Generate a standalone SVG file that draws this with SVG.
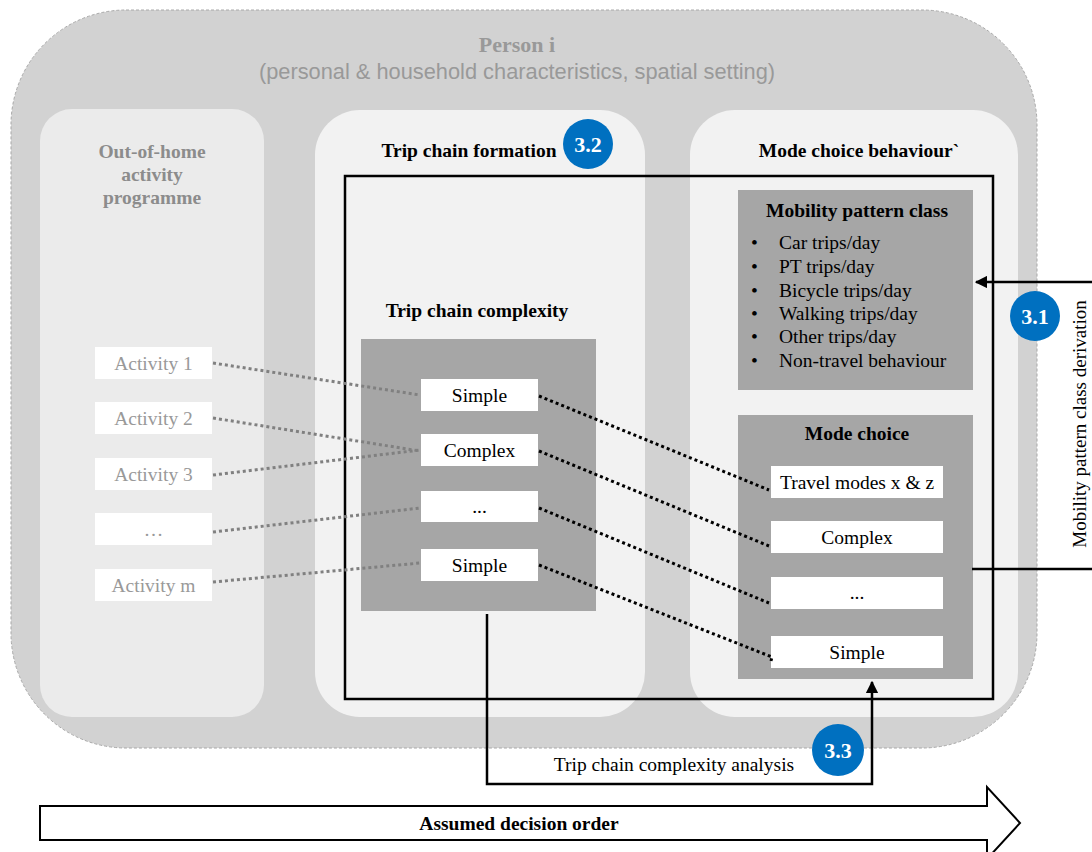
<svg xmlns="http://www.w3.org/2000/svg" width="1092" height="852" viewBox="0 0 1092 852">
<defs>
<style>
.serif{font-family:"Liberation Serif","Times New Roman",serif}
.sans{font-family:"Liberation Sans",Arial,sans-serif}
.b{font-weight:bold}
.t18{font-size:19.5px}
.t17{font-size:19.5px}
.panel{fill:#f2f2f2}
.gbox{fill:#a6a6a6}
.wbox{fill:#ffffff}
.act{fill:#999999}
.badge{fill:#0070c0}
.badgetxt{fill:#ffffff;font-family:"Liberation Serif","Times New Roman",serif;font-weight:bold;font-size:22px}
.gdot{stroke:#808080;stroke-width:3;stroke-dasharray:3 3;fill:none}
.bdot{stroke:#000000;stroke-width:3;stroke-dasharray:3 3;fill:none}
.solid{stroke:#000000;stroke-width:2.5;fill:none}
</style>
<marker id="ah" viewBox="0 0 10 10" refX="9" refY="5" markerWidth="5" markerHeight="5" orient="auto-start-reverse" markerUnits="strokeWidth">
<path d="M0,0 L10,5 L0,10 z" fill="#000"/>
</marker>
</defs>
<rect x="0" y="0" width="1092" height="852" fill="#ffffff"/>

<g id="person">
<rect x="11" y="10" width="1026" height="738" rx="115" ry="115" fill="#d2d2d2" stroke="#a8a8a8" stroke-width="1" stroke-dasharray="3 2"/>
<text class="serif b" x="517" y="52" text-anchor="middle" font-size="22" fill="#999999">Person i</text>
<text class="sans" x="517" y="79" text-anchor="middle" font-size="21.8" fill="#999999">(personal &amp; household characteristics, spatial setting)</text>
</g>

<g id="panel-activity">
<rect x="40" y="109" width="224" height="608" rx="32" fill="#ebebeb"/>
<text class="serif b t18" text-anchor="middle" fill="#8c8c8c"><tspan x="152" y="158">Out-of-home</tspan><tspan x="152" y="181">activity</tspan><tspan x="152" y="204">programme</tspan></text>
</g>

<g id="panel-trip">
<rect x="315" y="110" width="330" height="607" rx="45" class="panel"/>
<text class="serif b t17" x="469" y="157" text-anchor="middle">Trip chain formation</text>
</g>

<g id="panel-mode">
<rect x="690" y="110" width="328" height="607" rx="45" class="panel"/>
<text class="serif b t17" x="859" y="157" text-anchor="middle">Mode choice behaviour`</text>
</g>

<g id="frame">
<rect x="345" y="176" width="648" height="523" fill="none" stroke="#000" stroke-width="2.5"/>
</g>

<g id="badge-32">
<circle cx="588" cy="144" r="25" class="badge"/>
<text class="badgetxt" x="588" y="151.5" text-anchor="middle">3.2</text>
</g>

<g id="activities">
<g id="act1"><rect x="95" y="347" width="117" height="32" class="wbox"/><text class="serif t18 act" x="153.5" y="370" text-anchor="middle">Activity 1</text></g>
<g id="act2"><rect x="95" y="402" width="117" height="32" class="wbox"/><text class="serif t18 act" x="153.5" y="425" text-anchor="middle">Activity 2</text></g>
<g id="act3"><rect x="95" y="458" width="117" height="32" class="wbox"/><text class="serif t18 act" x="153.5" y="481" text-anchor="middle">Activity 3</text></g>
<g id="actdots"><rect x="95" y="513" width="117" height="32" class="wbox"/><text class="serif t18 act" x="153.5" y="536" text-anchor="middle">…</text></g>
<g id="actm"><rect x="95" y="569" width="117" height="32" class="wbox"/><text class="serif t18 act" x="153.5" y="592" text-anchor="middle">Activity m</text></g>
</g>

<g id="trip-complexity">
<text class="serif b t17" x="477" y="317" text-anchor="middle">Trip chain complexity</text>
<rect x="361" y="339" width="235" height="272" class="gbox"/>
<g id="tc1"><rect x="421" y="379" width="117" height="32" class="wbox"/><text class="serif t18" x="479.5" y="402" text-anchor="middle">Simple</text></g>
<g id="tc2"><rect x="421" y="434" width="117" height="32" class="wbox"/><text class="serif t18" x="479.5" y="457" text-anchor="middle">Complex</text></g>
<g id="tc3"><rect x="421" y="491" width="117" height="31" class="wbox"/><text class="serif t18" x="479.5" y="513" text-anchor="middle">...</text></g>
<g id="tc4"><rect x="421" y="549" width="117" height="32" class="wbox"/><text class="serif t18" x="479.5" y="572" text-anchor="middle">Simple</text></g>
</g>

<g id="mobility-pattern">
<rect x="738" y="190" width="235" height="200" class="gbox"/>
<text class="serif b t17" x="857" y="217" text-anchor="middle">Mobility pattern class</text>
<g class="serif t18">
<text x="751" y="249">•</text><text x="779" y="249">Car trips/day</text>
<text x="751" y="273">•</text><text x="779" y="273">PT trips/day</text>
<text x="751" y="297">•</text><text x="779" y="297">Bicycle trips/day</text>
<text x="751" y="320">•</text><text x="779" y="320">Walking trips/day</text>
<text x="751" y="343">•</text><text x="779" y="343">Other trips/day</text>
<text x="751" y="367">•</text><text x="779" y="367">Non-travel behaviour</text>
</g>
</g>

<g id="mode-choice">
<rect x="738" y="415" width="235" height="264" class="gbox"/>
<text class="serif b t17" x="857" y="440" text-anchor="middle">Mode choice</text>
<g id="mc1"><rect x="771" y="466" width="172" height="32" class="wbox"/><text class="serif t18" x="857" y="489" text-anchor="middle">Travel modes x &amp; z</text></g>
<g id="mc2"><rect x="771" y="521" width="172" height="32" class="wbox"/><text class="serif t18" x="857" y="544" text-anchor="middle">Complex</text></g>
<g id="mc3"><rect x="771" y="577" width="172" height="32" class="wbox"/><text class="serif t18" x="857" y="599" text-anchor="middle">...</text></g>
<g id="mc4"><rect x="771" y="636" width="172" height="32" class="wbox"/><text class="serif t18" x="857" y="659" text-anchor="middle">Simple</text></g>
</g>

<g id="connectors">
<line class="gdot" x1="213" y1="363" x2="420" y2="395"/>
<line class="gdot" x1="213" y1="418" x2="420" y2="451"/>
<line class="gdot" x1="213" y1="475" x2="420" y2="450"/>
<line class="gdot" x1="213" y1="532" x2="420" y2="508"/>
<line class="gdot" x1="213" y1="582" x2="420" y2="563"/>
<line class="bdot" x1="539" y1="396" x2="769" y2="490"/>
<line class="bdot" x1="539" y1="451" x2="769" y2="546"/>
<line class="bdot" x1="539" y1="508" x2="769" y2="603"/>
<polyline class="bdot" points="539,565 772,657 771,661"/>
<polyline class="solid" points="1092,569 972,569"/>
<line class="solid" x1="1092" y1="282" x2="976" y2="282" marker-end="url(#ah)"/>
<polyline class="solid" points="487,614 487,784 872,784 872,682" marker-end="url(#ah)"/>
</g>

<g id="badge-31">
<circle cx="1035" cy="316" r="25" class="badge"/>
<text class="badgetxt" x="1035" y="323.5" text-anchor="middle">3.1</text>
</g>

<g id="label-derivation">
<text class="serif" font-size="19" transform="translate(1086,424) rotate(-90)" text-anchor="middle">Mobility pattern class derivation</text>
</g>

<g id="label-analysis">
<text class="serif t17" x="674" y="771" text-anchor="middle">Trip chain complexity analysis</text>
</g>

<g id="badge-33">
<circle cx="838" cy="750" r="26" class="badge"/>
<text class="badgetxt" x="838" y="757.5" text-anchor="middle">3.3</text>
</g>

<g id="decision-order">
<polygon points="40,806 987,806 987,787 1020,823 987,859 987,840 40,840" fill="#ffffff" stroke="#000" stroke-width="2"/>
<text class="serif b t17" x="519" y="830" text-anchor="middle">Assumed decision order</text>
</g>
</svg>
